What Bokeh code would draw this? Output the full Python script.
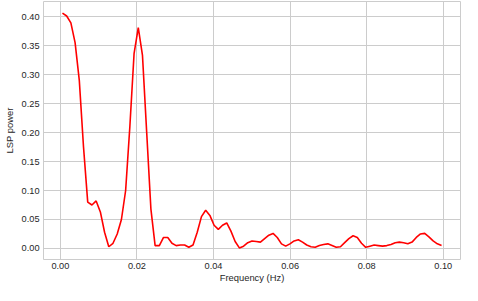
import numpy as np
from bokeh.plotting import figure
from bokeh.models import Range1d, FixedTicker, NumeralTickFormatter
from bokeh.embed import file_html
from bokeh.resources import INLINE

# Frequency grid (uniform): start, step, count
freq_start = 0.00055
freq_step = 0.0011
n_freq = 91
freq = freq_start + freq_step * np.arange(n_freq)

power = [
    0.406, 0.401, 0.389, 0.355, 0.290, 0.175, 0.080, 0.075, 0.082, 0.063,
    0.028, 0.003, 0.009, 0.025, 0.050, 0.100, 0.210, 0.336, 0.381, 0.333,
    0.200, 0.068, 0.005, 0.005, 0.019, 0.019, 0.009, 0.005, 0.006, 0.006,
    0.002, 0.006, 0.028, 0.055, 0.066, 0.057, 0.040, 0.033, 0.040, 0.044,
    0.030, 0.012, 0.001, 0.004, 0.010, 0.013, 0.012, 0.011, 0.017, 0.023,
    0.026, 0.019, 0.008, 0.004, 0.008, 0.013, 0.015, 0.011, 0.006, 0.003,
    0.002, 0.005, 0.007, 0.008, 0.005, 0.002, 0.003, 0.010, 0.017, 0.022,
    0.019, 0.009, 0.002, 0.004, 0.006, 0.005, 0.004, 0.005, 0.007, 0.010,
    0.011, 0.010, 0.008, 0.011, 0.019, 0.025, 0.026, 0.020, 0.013, 0.008,
    0.005,
]

x_ticks = [0.00, 0.02, 0.04, 0.06, 0.08, 0.10]
y_ticks = [0.00, 0.05, 0.10, 0.15, 0.20, 0.25, 0.30, 0.35, 0.40]

FONT = "Liberation Sans"
TXT = "#262626"
GRID = "#cccccc"

p = figure(width=462, height=285, output_backend="svg", toolbar_location=None,
           x_range=Range1d(-0.0044, 0.1045), y_range=Range1d(-0.019, 0.426),
           min_border_left=0, min_border_right=2, min_border_top=1, min_border_bottom=0)

p.line(freq, power, line_color="red", line_width=1.6)

p.outline_line_color = GRID
p.outline_line_width = 1
p.background_fill_color = "white"
p.border_fill_color = "white"

for ax in (p.xaxis[0], p.yaxis[0]):
    ax.axis_line_color = None
    ax.major_tick_line_color = None
    ax.minor_tick_line_color = None
    ax.major_tick_out = 0
    ax.major_tick_in = 0
    ax.minor_tick_out = 0
    ax.minor_tick_in = 0
    ax.major_label_text_font = FONT
    ax.major_label_text_font_size = "9.2px"
    ax.major_label_text_color = TXT
    ax.axis_label_text_font = FONT
    ax.axis_label_text_font_size = "9.4px"
    ax.axis_label_text_font_style = "normal"
    ax.axis_label_text_color = TXT

p.yaxis[0].major_label_standoff = 4
p.yaxis[0].axis_label_standoff = 4
p.xaxis[0].major_label_standoff = 3
p.xaxis[0].axis_label_standoff = 0

p.xaxis[0].ticker = FixedTicker(ticks=x_ticks)
p.yaxis[0].ticker = FixedTicker(ticks=y_ticks)
p.xaxis[0].formatter = NumeralTickFormatter(format="0.00")
p.yaxis[0].formatter = NumeralTickFormatter(format="0.00")
p.xaxis[0].axis_label = "Frequency (Hz)"
p.yaxis[0].axis_label = "LSP power"

p.xgrid.grid_line_color = GRID
p.ygrid.grid_line_color = GRID
p.xgrid.grid_line_width = 1
p.ygrid.grid_line_width = 1

open("out.html", "w").write(file_html(p, INLINE))
